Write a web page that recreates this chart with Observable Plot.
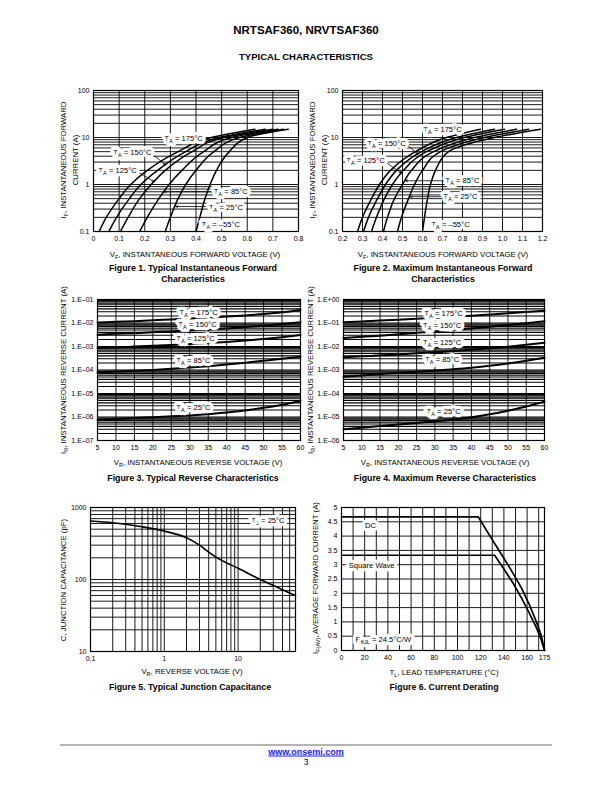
<!DOCTYPE html>
<html><head><meta charset="utf-8">
<script src="https://cdn.jsdelivr.net/npm/d3@7"></script>
<script src="https://cdn.jsdelivr.net/npm/@observablehq/plot@0.6"></script>
<style>
html,body{margin:0;padding:0;background:#fff}
#page{position:relative;width:612px;height:792px;overflow:hidden;font-family:"Liberation Sans",Arial,Helvetica,sans-serif;color:#000}
.t{position:absolute;white-space:nowrap;transform:translate(-50%,-50%);line-height:1}
.rot{transform:translate(-50%,-50%) rotate(-90deg);text-align:center}
.ttl{font-weight:bold}
.cap{font-weight:bold;font-size:8.8px;text-align:center;line-height:11px}
.axt{font-size:7.8px}
sub{font-size:5.5px;vertical-align:-1.5px;line-height:0}
.chart{position:absolute}
.chart svg{max-width:none!important}
</style></head>
<body><div id="page"></div>
<script>
// ---------------- DATA ----------------
// Figures 1 & 2: forward current (A) and voltage (V) per ambient temperature
const fwdCurrentA = [0.1, 0.2, 0.5, 1, 2, 5, 10, 15];
const fwdTemps = ["175", "150", "125", "85", "25", "–55"];
const typFwdVolts = [
  [0.022, 0.05, 0.10, 0.145, 0.21, 0.33, 0.46, 0.63],
  [0.06, 0.09, 0.14, 0.185, 0.25, 0.36, 0.49, 0.67],
  [0.105, 0.135, 0.18, 0.225, 0.28, 0.385, 0.51, 0.70],
  [0.18, 0.21, 0.255, 0.295, 0.345, 0.43, 0.54, 0.72],
  [0.28, 0.30, 0.33, 0.36, 0.40, 0.47, 0.57, 0.74],
  [0.40, 0.415, 0.435, 0.455, 0.48, 0.53, 0.60, 0.76]
];
const maxFwdVolts = [
  [0.275, 0.30, 0.345, 0.385, 0.44, 0.565, 0.72, 0.89],
  [0.305, 0.33, 0.375, 0.415, 0.47, 0.595, 0.77, 0.96],
  [0.345, 0.37, 0.41, 0.45, 0.505, 0.62, 0.81, 1.01],
  [0.405, 0.425, 0.46, 0.50, 0.545, 0.655, 0.86, 1.07],
  [0.475, 0.495, 0.53, 0.56, 0.60, 0.69, 0.91, 1.13],
  [0.60, 0.61, 0.625, 0.64, 0.665, 0.73, 0.96, 1.19]
];
// Figures 3 & 4: reverse current (A) vs reverse voltage (V)
const revVolts = [5, 10, 15, 20, 25, 30, 35, 40, 45, 50, 55, 60];
const revTemps = ["175", "150", "125", "85", "25"];
const typRevAmps = [
  [1.05e-2, 1.12e-2, 1.2e-2, 1.3e-2, 1.42e-2, 1.55e-2, 1.7e-2, 1.88e-2, 2.1e-2, 2.4e-2, 2.85e-2, 3.6e-2],
  [3.2e-3, 3.45e-3, 3.7e-3, 4.0e-3, 4.4e-3, 4.8e-3, 5.3e-3, 5.9e-3, 6.7e-3, 7.7e-3, 9.0e-3, 1.08e-2],
  [8.6e-4, 9.2e-4, 9.9e-4, 1.07e-3, 1.16e-3, 1.27e-3, 1.4e-3, 1.56e-3, 1.78e-3, 2.08e-3, 2.5e-3, 3.1e-3],
  [8.0e-5, 8.6e-5, 9.3e-5, 1.01e-4, 1.12e-4, 1.27e-4, 1.46e-4, 1.72e-4, 2.05e-4, 2.48e-4, 3.0e-4, 3.7e-4],
  [7.5e-7, 8.2e-7, 9.0e-7, 9.8e-7, 1.07e-6, 1.17e-6, 1.32e-6, 1.55e-6, 1.9e-6, 2.45e-6, 3.3e-6, 4.8e-6]
];
const maxRevAmps = [
  [0.108, 0.117, 0.127, 0.138, 0.151, 0.166, 0.183, 0.203, 0.228, 0.257, 0.292, 0.335],
  [0.023, 0.026, 0.029, 0.033, 0.038, 0.044, 0.051, 0.059, 0.069, 0.082, 0.098, 0.12],
  [3.5e-3, 3.8e-3, 4.2e-3, 4.6e-3, 5.1e-3, 5.7e-3, 6.4e-3, 7.3e-3, 8.4e-3, 9.8e-3, 1.18e-2, 1.45e-2],
  [5.2e-4, 5.9e-4, 6.7e-4, 7.5e-4, 8.4e-4, 9.5e-4, 1.08e-3, 1.25e-3, 1.5e-3, 1.88e-3, 2.45e-3, 3.3e-3],
  [3.0e-6, 3.5e-6, 4.1e-6, 4.8e-6, 5.6e-6, 6.5e-6, 7.8e-6, 9.8e-6, 1.3e-5, 1.85e-5, 2.8e-5, 4.5e-5]
];
// Figure 5: junction capacitance
const capVolts = [0.1, 0.2, 0.3, 0.5, 1, 2, 3, 4, 5, 7, 10, 20, 30, 40, 60];
const capPf = [650, 615, 585, 540, 470, 380, 300, 240, 205, 170, 143, 100, 83, 72, 60];
// Figure 6: current derating
const dcTemp = [0, 118, 125, 135, 145, 155, 162, 168, 172, 175];
const dcAmps = [4.67, 4.67, 4.2, 3.55, 2.9, 2.2, 1.6, 1.0, 0.55, 0];
const swTemp = [0, 132, 140, 148, 155, 162, 168, 172, 175];
const swAmps = [3.33, 3.33, 2.85, 2.35, 1.85, 1.3, 0.8, 0.4, 0];

// Tick values
const f1Ticks = [0, 1, 2, 3, 4, 5, 6, 7, 8].map(k => k / 10);
const f2Ticks = [2, 3, 4, 5, 6, 7, 8, 9, 10, 11, 12].map(k => k / 10);
const fwdYTicks = [0.1, 1, 10, 100];
const revXTicks = [5, 10, 15, 20, 25, 30, 35, 40, 45, 50, 55, 60];
const f3YTicks = [1e-7, 1e-6, 1e-5, 1e-4, 1e-3, 1e-2, 1e-1];
const f4YTicks = [1e-6, 1e-5, 1e-4, 1e-3, 1e-2, 1e-1, 1];
const f5XTicks = [0.1, 1, 10];
const f5YTicks = [10, 100, 1000];
const f6XTicks = [0, 20, 40, 60, 80, 100, 120, 140, 160, 175];
const f6YTicks = [0, 0.5, 1, 1.5, 2, 2.5, 3, 3.5, 4, 4.5, 5];

// Annotations (label anchors in data units)
const f1LabelV = [0.352, 0.152, 0.094, 0.536, 0.517, 0.497];
const f1LabelI = [9.4, 4.7, 1.96, 0.70, 0.33, 0.14];
const f1ArrowV1 = [0.226, 0.17, 0.47, 0.45], f1ArrowI1 = [4.6, 1.9, 0.70, 0.34];
const f1ArrowV2 = [0.282, 0.237, 0.276, 0.321], f1ArrowI2 = [2.6, 1.14, 0.70, 0.34];
const f2LabelV = [0.70, 0.42, 0.315, 0.80, 0.79, 0.74];
const f2LabelI = [14.6, 7.6, 3.16, 1.2, 0.55, 0.14];
const f2ArrowV1 = [0.515, 0.41, 0.71, 0.70], f2ArrowI1 = [7.4, 3.1, 1.2, 0.55];
const f2ArrowV2 = [0.578, 0.495, 0.515, 0.538], f2ArrowI2 = [4.4, 1.75, 1.2, 0.55];
const f3LabelV = [32.4, 32.1, 31.6, 31, 31];
const f3LabelI = [2.67e-2, 8.2e-3, 2.1e-3, 2.5e-4, 2.6e-6];
const f4LabelV = [32.4, 32, 32, 32, 32.4];
const f4LabelI = [0.26, 0.078, 0.0152, 2.8e-3, 1.7e-5];
const f5LabelV = [25.5], f5LabelC = [660], f5LabelText = ["T_{J} = 25°C"];
const f6LabelT = [25, 26, 36], f6LabelA = [4.37, 2.97, 0.38];
const f6LabelText = ["DC", "Square Wave", "R_{θJL} = 24.5°C/W"];

// ---------------- LAYOUT ----------------
const page = document.getElementById("page");
const FONT = '"Liberation Sans", Arial, Helvetica, sans-serif';
const ML = 40, MR = 14, MT = 12, MB = 22;
const FR = {
  f1: [93, 298, 90, 231],
  f2: [342, 542, 90, 231],
  f3: [97, 300, 299, 440],
  f4: [343, 544, 299, 440],
  f5: [90, 295, 507, 651],
  f6: [341, 544, 507, 650]
};
const NS = "http://www.w3.org/2000/svg";
function subify(root) {
  root.querySelectorAll("text").forEach(t => {
    const s = t.textContent;
    if (!s.includes("_{")) return;
    const parts = s.split(/_\{([^}]*)\}/);
    while (t.firstChild) t.removeChild(t.firstChild);
    let low = false;
    parts.forEach((p, i) => {
      if (!p) return;
      const ts = document.createElementNS(NS, "tspan");
      const sub = i % 2 === 1;
      if (sub && !low) { ts.setAttribute("dy", "2"); low = true; }
      if (!sub && low) { ts.setAttribute("dy", "-2"); low = false; }
      if (sub) ts.setAttribute("font-size", "5.6");
      ts.textContent = p;
      t.appendChild(ts);
    });
  });
}
function chart(fr, opts) {
  const [x0, x1, y0, y1] = fr;
  const svg = Plot.plot({
    width: x1 - x0 + ML + MR, height: y1 - y0 + MT + MB,
    marginLeft: ML, marginRight: MR, marginTop: MT, marginBottom: MB,
    style: {fontFamily: FONT, fontSize: "7px", color: "#000", background: "transparent", overflow: "visible"},
    ...opts
  });
  subify(svg);
  const wrap = document.createElement("div");
  wrap.className = "chart";
  wrap.style.left = (x0 - ML) + "px";
  wrap.style.top = (y0 - MT) + "px";
  wrap.appendChild(svg);
  page.appendChild(wrap);
}
function txt(html, x, y, cls, extra) {
  const d = document.createElement("div");
  d.className = "t " + cls;
  d.innerHTML = html;
  d.style.left = x + "px";
  d.style.top = y + "px";
  if (extra) Object.assign(d.style, extra);
  page.appendChild(d);
}
const GRID = {stroke: "#000", strokeWidth: 0.9};
const xAx = (vals, fmt) => Plot.axisX(vals, {tickSize: 0, tickPadding: 5, tickFormat: fmt, label: null});
const yAx = (vals, fmt) => Plot.axisY(vals, {tickSize: 0, tickPadding: 4, tickFormat: fmt, label: null});
const logGrid = (lo, hi) => d3.scaleLog().domain([lo, hi]).ticks();
const expFmt = d => { const e = Math.round(Math.log10(d)); return "1.E" + (e < 0 ? "–" : "+") + String(Math.abs(e)).padStart(2, "0"); };
const tLabel = t => `T_{A} = ${t}°C`;
const rowsOf = (series, xs, ys, key) => series.flatMap((s, i) => xs.map((x, j) => ({s, x: key === "x" ? ys[i][j] : x, y: key === "x" ? x : ys[i][j]})));
const labelRows = (texts, xs, ys) => texts.map((text, i) => ({text, x: xs[i], y: ys[i]}));
const arrowRows = (a, b, c, d) => a.map((_, i) => ({x1: a[i], y1: b[i], x2: c[i], y2: d[i]}));
const LBL = {x: "x", y: "y", text: "text", fill: "#000", stroke: "#fff", strokeWidth: 6.5, fontSize: 7.6};
const ARW = {x1: "x1", y1: "y1", x2: "x2", y2: "y2", stroke: "#000", strokeWidth: 0.8, headLength: 4, headAngle: 50};

// ---------------- HEADER ----------------
txt("NRTSAF360, NRVTSAF360", 306, 31, "ttl", {fontSize: "11.5px"});
txt("TYPICAL CHARACTERISTICS", 306, 57, "ttl", {fontSize: "9.5px"});

// ---------------- FIGURE 1 ----------------
chart(FR.f1, {
  x: {domain: [0, 0.8]},
  y: {type: "log", domain: [0.1, 100]},
  marks: [
    Plot.ruleX(f1Ticks, GRID),
    Plot.ruleY(logGrid(0.1, 100), GRID),
    Plot.frame({stroke: "#000", strokeWidth: 1.2}),
    Plot.line(rowsOf(fwdTemps, fwdCurrentA, typFwdVolts, "x"), {x: "x", y: "y", z: "s", stroke: "#000", strokeWidth: 1.5, curve: "monotone-y"}),
    Plot.arrow(arrowRows(f1ArrowV1, f1ArrowI1, f1ArrowV2, f1ArrowI2), ARW),
    Plot.text(labelRows(fwdTemps.map(tLabel), f1LabelV, f1LabelI), LBL),
    xAx(f1Ticks, d => d === 0 ? "0" : d.toFixed(1)),
    yAx(fwdYTicks, d => String(d))
  ]
});
txt("V<sub>F</sub>, INSTANTANEOUS FORWARD VOLTAGE (V)", 195, 255, "axt");
txt("I<sub>F</sub>, INSTANTANEOUS FORWARD<br>CURRENT (A)", 70, 160, "axt rot", {lineHeight: "12px"});
txt("Figure 1. Typical Instantaneous Forward<br>Characteristics", 193, 274, "cap");

// ---------------- FIGURE 2 ----------------
chart(FR.f2, {
  x: {domain: [0.2, 1.2]},
  y: {type: "log", domain: [0.1, 100]},
  marks: [
    Plot.ruleX(f2Ticks, GRID),
    Plot.ruleY(logGrid(0.1, 100), GRID),
    Plot.frame({stroke: "#000", strokeWidth: 1.2}),
    Plot.line(rowsOf(fwdTemps, fwdCurrentA, maxFwdVolts, "x"), {x: "x", y: "y", z: "s", stroke: "#000", strokeWidth: 1.5, curve: "monotone-y"}),
    Plot.arrow(arrowRows(f2ArrowV1, f2ArrowI1, f2ArrowV2, f2ArrowI2), ARW),
    Plot.text(labelRows(fwdTemps.map(tLabel), f2LabelV, f2LabelI), LBL),
    xAx(f2Ticks, d => d.toFixed(1)),
    yAx(fwdYTicks, d => String(d))
  ]
});
txt("V<sub>F</sub>, INSTANTANEOUS FORWARD VOLTAGE (V)", 443, 255, "axt");
txt("I<sub>F</sub>, INSTANTANEOUS FORWARD<br>CURRENT (A)", 319, 160, "axt rot", {lineHeight: "12px"});
txt("Figure 2. Maximum Instantaneous Forward<br>Characteristics", 443, 274, "cap");

// ---------------- FIGURE 3 ----------------
chart(FR.f3, {
  x: {domain: [5, 60]},
  y: {type: "log", domain: [1e-7, 1e-1]},
  marks: [
    Plot.ruleX(revXTicks, GRID),
    Plot.ruleY(logGrid(1e-7, 1e-1), {stroke: "#000", strokeWidth: 1.1}),
    Plot.frame({stroke: "#000", strokeWidth: 1.2}),
    Plot.line(rowsOf(revTemps, revVolts, typRevAmps, "y"), {x: "x", y: "y", z: "s", stroke: "#000", strokeWidth: 2, curve: "monotone-x"}),
    Plot.text(labelRows(revTemps.map(tLabel), f3LabelV, f3LabelI), LBL),
    xAx(revXTicks, d => String(d)),
    yAx(f3YTicks, expFmt)
  ]
});
txt("V<sub>R</sub>, INSTANTANEOUS REVERSE VOLTAGE (V)", 198, 463, "axt");
txt("I<sub>R</sub>, INSTANTANEOUS REVERSE CURRENT (A)", 64, 370, "axt rot");
txt("Figure 3. Typical Reverse Characteristics", 193, 478, "cap");

// ---------------- FIGURE 4 ----------------
chart(FR.f4, {
  x: {domain: [5, 60]},
  y: {type: "log", domain: [1e-6, 1]},
  marks: [
    Plot.ruleX(revXTicks, GRID),
    Plot.ruleY(logGrid(1e-6, 1), {stroke: "#000", strokeWidth: 1.1}),
    Plot.frame({stroke: "#000", strokeWidth: 1.2}),
    Plot.line(rowsOf(revTemps, revVolts, maxRevAmps, "y"), {x: "x", y: "y", z: "s", stroke: "#000", strokeWidth: 2, curve: "monotone-x"}),
    Plot.text(labelRows(revTemps.map(tLabel), f4LabelV, f4LabelI), LBL),
    xAx(revXTicks, d => String(d)),
    yAx(f4YTicks, expFmt)
  ]
});
txt("V<sub>R</sub>, INSTANTANEOUS REVERSE VOLTAGE (V)", 445, 463, "axt");
txt("I<sub>R</sub>, INSTANTANEOUS REVERSE CURRENT (A)", 311, 370, "axt rot");
txt("Figure 4. Maximum Reverse Characteristics", 445, 478, "cap");

// ---------------- FIGURE 5 ----------------
chart(FR.f5, {
  x: {type: "log", domain: [0.1, 60]},
  y: {type: "log", domain: [10, 1000]},
  marks: [
    Plot.ruleX(logGrid(0.1, 60), GRID),
    Plot.ruleY(logGrid(10, 1000), GRID),
    Plot.frame({stroke: "#000", strokeWidth: 1.2}),
    Plot.line(capVolts.map((v, i) => ({x: v, y: capPf[i]})), {x: "x", y: "y", stroke: "#000", strokeWidth: 1.6, curve: "monotone-x"}),
    Plot.text(labelRows(f5LabelText, f5LabelV, f5LabelC), LBL),
    xAx(f5XTicks, d => String(d)),
    yAx(f5YTicks, d => String(d))
  ]
});
txt("V<sub>R</sub>, REVERSE VOLTAGE (V)", 192, 672, "axt");
txt("C, JUNCTION CAPACITANCE (pF)", 64, 580, "axt rot");
txt("Figure 5. Typical Junction Capacitance", 190, 687, "cap");

// ---------------- FIGURE 6 ----------------
chart(FR.f6, {
  x: {domain: [0, 175]},
  y: {domain: [0, 5]},
  marks: [
    Plot.ruleX(d3.range(0, 171, 10), GRID),
    Plot.ruleY(f6YTicks, GRID),
    Plot.frame({stroke: "#000", strokeWidth: 1.2}),
    Plot.line(dcTemp.map((t, i) => ({x: t, y: dcAmps[i]})), {x: "x", y: "y", stroke: "#000", strokeWidth: 1.7}),
    Plot.line(swTemp.map((t, i) => ({x: t, y: swAmps[i]})), {x: "x", y: "y", stroke: "#000", strokeWidth: 1.7}),
    Plot.text(labelRows(f6LabelText, f6LabelT, f6LabelA), LBL),
    xAx(f6XTicks, d => String(d)),
    yAx(f6YTicks, d => String(d))
  ]
});
txt("T<sub>L</sub>, LEAD TEMPERATURE (°C)", 444, 673, "axt");
txt("I<sub>F(AV)</sub>, AVERAGE FORWARD CURRENT (A)", 316, 578, "axt rot");
txt("Figure 6. Current Derating", 444, 687, "cap");

// ---------------- FOOTER ----------------
const rule = document.createElement("div");
Object.assign(rule.style, {position: "absolute", left: "60px", top: "744px", width: "492px", height: "2px", background: "#b5b5b5"});
page.appendChild(rule);
txt('<span style="color:#1a1aff;text-decoration:underline">www.onsemi.com</span>', 306, 752, "ttl", {fontSize: "9px"});
txt("3", 306, 762, "", {fontSize: "8.5px"});
</script></body></html>
